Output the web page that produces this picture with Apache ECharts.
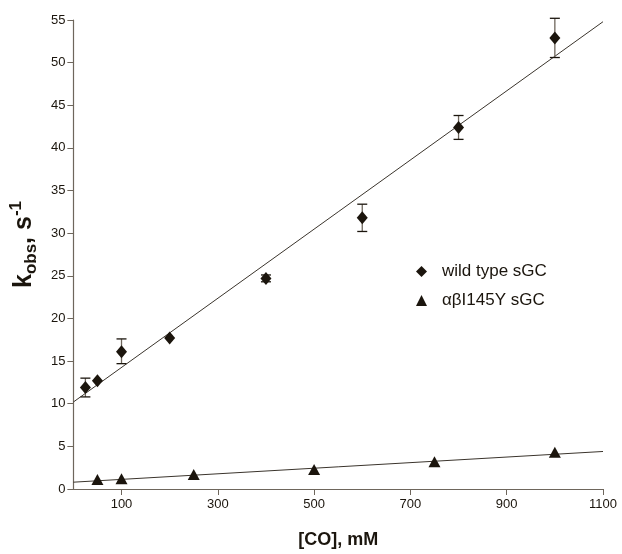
<!DOCTYPE html>
<html>
<head>
<meta charset="utf-8">
<script src="https://cdn.jsdelivr.net/npm/echarts@6/dist/echarts.min.js"></script>
<style>
  html, body { margin: 0; padding: 0; background: #fff; }
  #chart { width: 622px; height: 554px; }
</style>
</head>
<body>
<div id="chart"></div>
<script>
// wild type sGC: [CO], kobs, error low, error high
var wtCO = [25, 50, 100, 200, 400, 600, 800, 1000]
var wtK = [11.9, 12.7, 16.1, 17.7, 24.7, 31.8, 42.4, 52.9]
var wtLow = [10.8, 12.7, 14.7, 17.7, 24.3, 30.2, 41.0, 50.6]
var wtHigh = [13.0, 12.7, 17.6, 17.7, 25.1, 33.4, 43.8, 55.2]
// αβI145Y sGC
var mutCO = [50, 100, 250, 500, 750, 1000]
var mutK = [1.1, 1.2, 1.7, 2.3, 3.2, 4.3]
// fitted lines (endpoints)
var wtFitX = [0, 1100]
var wtFitY = [10.2, 54.8]
var mutFitX = [0, 1100]
var mutFitY = [0.8, 4.4]
var xTicks = [100, 300, 500, 700, 900, 1100]

var ink = '#1b150d'
var axisColor = '#6e665c'

var chart = echarts.init(document.getElementById('chart'))

function pairs(xs, ys) {
  return xs.map(function(x, i) { return [x, ys[i]] })
}

var errData = wtCO.map(function(x, i) { return [x, wtLow[i], wtHigh[i]] })
  .filter(function(d) { return d[2] - d[1] > 0.01 })

var option = {
  animation: false,
  grid: { left: 71, right: 19, top: 20, bottom: 59 },
  legend: {
    orient: 'vertical',
    left: 411,
    top: 258,
    itemWidth: 11,
    itemHeight: 11,
    itemGap: 12,
    textStyle: { fontFamily: 'Liberation Sans', fontSize: 17, color: ink, padding: [0, 0, 0, 10] },
    data: [
      { name: 'wild type sGC', icon: 'diamond' },
      { name: 'αβI145Y sGC', icon: 'triangle' }
    ]
  },
  xAxis: {
    type: 'value',
    min: 0,
    max: 1100,
    name: '[CO], mM',
    nameLocation: 'middle',
    nameGap: 42,
    nameTextStyle: { fontFamily: 'Liberation Sans', fontSize: 18, fontWeight: 'bold', color: ink },
    axisLine: { lineStyle: { color: axisColor, width: 1.2 } },
    axisTick: { show: true, length: 6, lineStyle: { color: axisColor }, customValues: xTicks },
    axisLabel: {
      customValues: xTicks,
      formatter: function(v) { return String(v) },
      fontFamily: 'Liberation Sans', fontSize: 13, color: ink, margin: 9
    },
    splitLine: { show: false }
  },
  yAxis: {
    type: 'value',
    min: 0,
    max: 55,
    interval: 5,
    name: '{b|k}{sub|obs}{b|, s}{sup|-1}',
    nameLocation: 'middle',
    nameGap: 32,
    nameRotate: 90,
    nameTextStyle: {
      padding: [0, 0, 0, 20],
      rich: {
        b: { fontFamily: 'Liberation Sans', fontSize: 25, fontWeight: 'bold', color: ink, lineHeight: 32, verticalAlign: 'middle' },
        sub: { fontFamily: 'Liberation Sans', fontSize: 17, fontWeight: 'bold', color: ink, lineHeight: 32, verticalAlign: 'bottom' },
        sup: { fontFamily: 'Liberation Sans', fontSize: 17, fontWeight: 'bold', color: ink, lineHeight: 32, verticalAlign: 'top' }
      }
    },
    axisLine: { show: true, lineStyle: { color: axisColor, width: 1.2 } },
    axisTick: { show: true, length: 6, lineStyle: { color: axisColor } },
    axisLabel: { fontFamily: 'Liberation Sans', fontSize: 13, color: ink, margin: 8 },
    splitLine: { show: false }
  },
  series: [
    {
      type: 'line',
      data: pairs(wtFitX, wtFitY),
      showSymbol: false,
      silent: true,
      lineStyle: { color: '#3a342c', width: 1 },
      z: 1
    },
    {
      type: 'line',
      data: pairs(mutFitX, mutFitY),
      showSymbol: false,
      silent: true,
      lineStyle: { color: '#3a342c', width: 1 },
      z: 1
    },
    {
      type: 'custom',
      data: errData,
      silent: true,
      z: 2,
      renderItem: function(params, api) {
        var top = api.coord([api.value(0), api.value(2)])
        var bot = api.coord([api.value(0), api.value(1)])
        var w = 5
        var st = { stroke: ink, lineWidth: 1.3 }
        return {
          type: 'group',
          children: [
            { type: 'line', shape: { x1: top[0], y1: top[1], x2: bot[0], y2: bot[1] }, style: { stroke: '#6e665c', lineWidth: 1.3 } },
            { type: 'line', shape: { x1: top[0] - w, y1: top[1], x2: top[0] + w, y2: top[1] }, style: st },
            { type: 'line', shape: { x1: bot[0] - w, y1: bot[1], x2: bot[0] + w, y2: bot[1] }, style: st }
          ]
        }
      }
    },
    {
      name: 'wild type sGC',
      type: 'scatter',
      data: pairs(wtCO, wtK),
      symbol: 'diamond',
      symbolSize: [11, 13],
      itemStyle: { color: ink, opacity: 1 },
      z: 3
    },
    {
      name: 'αβI145Y sGC',
      type: 'scatter',
      data: pairs(mutCO, mutK),
      symbol: 'triangle',
      symbolSize: [12, 11],
      itemStyle: { color: ink, opacity: 1 },
      z: 3
    }
  ]
}

chart.setOption(option)
</script>
</body>
</html>
